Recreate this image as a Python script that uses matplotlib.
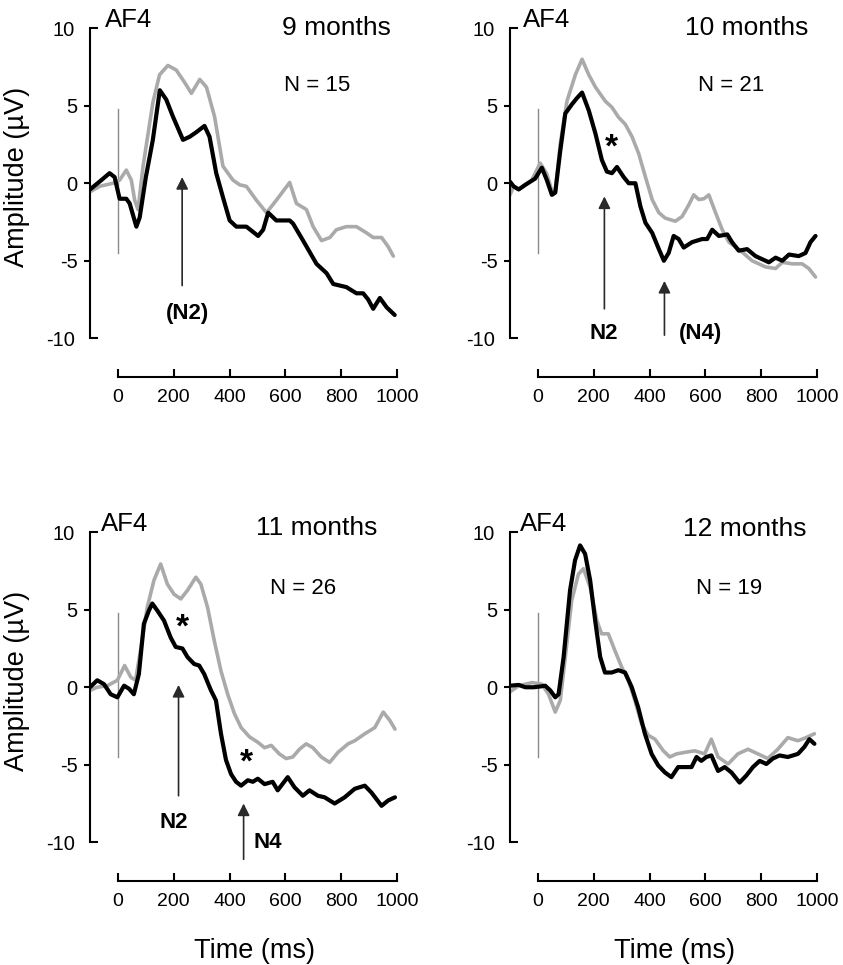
import matplotlib
matplotlib.use("Agg")
import matplotlib.pyplot as plt

plt.rcParams["font.family"] = ["Liberation Sans", "DejaVu Sans"]

# ── data (time in ms, amplitude in µV) ──────────────────────────────────────
t9_black = [-100, -66, -30, -12, 6, 30, 42, 66, 78, 100, 125, 150, 173, 197, 233, 257, 281, 310,
            328, 352, 376, 400, 424, 460, 502, 520, 538, 567, 615, 627, 663, 711, 747, 771, 818,
            854, 878, 896, 914, 938, 962, 991]
v9_black = [-0.4, 0.1, 0.65, 0.4, -1.0, -1.0, -1.3, -2.8, -2.2, 0.4, 2.8, 6.0, 5.4, 4.3, 2.8, 3.0,
            3.3, 3.7, 3.0, 0.65, -0.9, -2.4, -2.8, -2.8, -3.4, -3.0, -1.9, -2.4, -2.4, -2.6, -3.7,
            -5.2, -5.8, -6.5, -6.7, -7.1, -7.1, -7.5, -8.1, -7.4, -8.0, -8.5]
t9_gray = [-100, -66, -18, 6, 30, 48, 60, 72, 90, 125, 149, 179, 209, 239, 263, 293, 317, 346, 376,
           412, 436, 460, 496, 532, 567, 615, 639, 675, 699, 729, 759, 782, 818, 854, 890, 914, 944,
           968, 986]
v9_gray = [-0.55, -0.2, 0, 0.2, 0.85, 0.2, -1.1, -1.7, 1.1, 5.2, 7.0, 7.6, 7.3, 6.5, 5.8, 6.7, 6.2,
           4.3, 1.1, 0.2, -0.1, -0.2, -1.1, -1.9, -1.1, 0.05, -1.3, -1.7, -2.8, -3.7, -3.5, -3.0,
           -2.8, -2.8, -3.2, -3.5, -3.5, -4.1, -4.7]

t10_black = [-100, -87, -69, -45, -10, 14, 32, 50, 62, 80, 98, 122, 140, 158, 182, 206, 229, 247,
             265, 283, 307, 325, 349, 367, 385, 409, 433, 451, 468, 486, 504, 522, 552, 588, 606,
             624, 648, 678, 695, 719, 749, 779, 827, 851, 875, 899, 934, 958, 976, 994]
v10_black = [0.1, -0.2, -0.4, -0.1, 0.3, 1.0, 0.2, -0.75, -0.6, 2.1, 4.5, 5.1, 5.5, 5.85, 4.7, 3.2,
             1.5, 0.75, 0.65, 1.05, 0.4, 0, 0, -1.5, -2.55, -3.2, -4.25, -5.0, -4.5, -3.4, -3.6,
             -4.15, -3.8, -3.6, -3.6, -3.0, -3.4, -3.3, -3.8, -4.35, -4.25, -4.7, -5.1, -4.8, -5.0,
             -4.6, -4.7, -4.5, -3.8, -3.4]
t10_gray = [-100, -87, -69, -22, 8, 32, 50, 62, 80, 104, 134, 158, 182, 206, 241, 265, 289, 313,
            337, 361, 385, 409, 433, 456, 492, 516, 540, 558, 576, 594, 612, 636, 660, 684, 719,
            767, 815, 851, 875, 911, 946, 970, 994]
v10_gray = [-0.75, -0.2, -0.4, 0.2, 1.3, 0.6, -0.5, -0.6, 2.55, 5.3, 7.0, 8.0, 7.0, 6.2, 5.3, 4.9,
            4.25, 3.8, 3.0, 1.9, 0.4, -1.05, -1.9, -2.25, -2.45, -2.15, -1.4, -0.75, -1.05, -1.0,
            -0.75, -1.9, -3.0, -3.8, -4.25, -5.0, -5.4, -5.5, -5.1, -5.2, -5.2, -5.5, -6.05]

t11_black = [-100, -74, -50, -26, -2, 22, 40, 57, 75, 93, 111, 123, 141, 165, 189, 207, 231, 249,
             273, 291, 309, 333, 351, 369, 387, 405, 423, 441, 465, 483, 501, 525, 554, 572, 608,
             632, 662, 686, 716, 740, 776, 812, 848, 884, 908, 944, 968, 992]
v11_black = [0, 0.45, 0.2, -0.45, -0.65, 0.1, -0.1, -0.45, 0.85, 4.1, 4.95, 5.4, 4.95, 4.3, 3.2,
             2.6, 2.5, 1.95, 1.5, 1.4, 0.85, -0.2, -0.85, -3.0, -4.7, -5.6, -6.1, -6.35, -6.0, -6.1,
             -5.9, -6.25, -6.1, -6.65, -5.8, -6.45, -7.0, -6.65, -7.0, -7.1, -7.5, -7.1, -6.55,
             -6.35, -6.8, -7.65, -7.3, -7.1]
t11_gray = [-100, -74, -38, -2, 24, 46, 63, 81, 105, 129, 153, 177, 201, 225, 249, 279, 297, 321,
            345, 369, 393, 417, 441, 471, 501, 525, 549, 578, 602, 626, 650, 674, 698, 728, 758,
            788, 824, 848, 884, 920, 950, 974, 992]
v11_gray = [-0.2, 0, 0.1, 0.45, 1.4, 0.65, 0.45, 2.4, 5.15, 6.9, 7.95, 6.65, 6.0, 5.7, 6.25, 7.1,
            6.65, 5.15, 3.0, 1.05, -0.45, -1.7, -2.6, -3.2, -3.55, -3.9, -3.75, -4.3, -4.6, -4.5,
            -4.0, -3.65, -3.9, -4.5, -4.85, -4.2, -3.65, -3.45, -3.0, -2.6, -1.6, -2.15, -2.7]

t12_black = [-100, -69, -45, -15, 8, 26, 44, 62, 74, 92, 115, 133, 151, 169, 187, 205, 223, 240,
             264, 288, 312, 336, 359, 383, 407, 431, 455, 478, 502, 526, 550, 568, 585, 603, 621,
             645, 669, 693, 722, 746, 770, 794, 818, 841, 865, 895, 931, 954, 972, 990]
v12_black = [0.1, 0.15, 0, 0, 0.05, 0.1, -0.2, -0.65, -0.45, 1.95, 6.25, 8.2, 9.15, 8.6, 6.9, 4.3,
             1.95, 0.95, 0.95, 1.1, 0.95, 0, -1.3, -3.0, -4.3, -5.05, -5.5, -5.8, -5.15, -5.15,
             -5.15, -4.5, -4.75, -4.5, -4.4, -5.4, -5.15, -5.5, -6.15, -5.7, -5.15, -4.75, -4.95,
             -4.6, -4.4, -4.5, -4.3, -3.85, -3.35, -3.65]
t12_gray = [-100, -69, -21, 14, 38, 62, 80, 98, 121, 145, 163, 187, 211, 228, 252, 276, 300, 324,
            347, 371, 395, 419, 449, 472, 496, 526, 562, 597, 621, 645, 681, 716, 752, 788, 823,
            859, 895, 931, 960, 990]
v12_gray = [-0.3, 0.1, 0.3, 0.2, -0.45, -1.6, -0.85, 1.95, 5.6, 7.3, 7.65, 6.45, 4.3, 3.45, 3.45,
            2.35, 1.3, 0.45, -0.85, -2.35, -3.1, -3.35, -4.1, -4.5, -4.3, -4.2, -4.1, -4.3, -3.35,
            -4.5, -4.95, -4.3, -4.0, -4.3, -4.6, -4.0, -3.25, -3.45, -3.25, -3.0]

ages = ["9 months", "10 months", "11 months", "12 months"]
n_subjects = [15, 21, 26, 19]
y_ticks = [-10, -5, 0, 5, 10]
x_ticks = [0, 200, 400, 600, 800, 1000]

# ── layout: (label, arrow x, arrow tail y, arrow tip y, label x, label y) ───
arrows = [
    [("(N2)", 230, -6.6, 0.4, 250, -8.4)],
    [("N2", 238, -8.1, -0.85, 235, -9.7), ("(N4)", 453, -9.8, -6.3, 582, -9.7)],
    [("N2", 217, -7.0, 0.15, 201, -8.7), ("N4", 450, -11.1, -7.5, 537, -10.0)],
    [],
]
stars = [[], [(262, 2.3)], [(231, 3.8), (459, -4.9)], []]
title_pos = [(781, 10.0), (749, 10.0), (710, 10.25), (742, 10.2)]
n_pos = [(713, 6.3), (692, 6.3), (663, 6.4), (685, 6.35)]
af4_x = [-45, -55, -60, -65]

curves = [
    (t9_black, v9_black, t9_gray, v9_gray),
    (t10_black, v10_black, t10_gray, v10_gray),
    (t11_black, v11_black, t11_gray, v11_gray),
    (t12_black, v12_black, t12_gray, v12_gray),
]

W, H = 843, 965
fig = plt.figure(figsize=(W / 100, H / 100), dpi=100)
boxes = [(90, 377), (510, 377), (90, 881), (510, 881)]   # spine x, bottom y in px
aw, ah = 310, 356.5

GRAY = "#aaaaaa"
for i, (tb, vb, tg, vg) in enumerate(curves):
    left, bottom = boxes[i]
    ax = fig.add_axes([left / W, 1 - bottom / H, aw / W, ah / H])
    ax.set_xlim(-100, 1010)
    ax.set_ylim(-12.5, 10.5)

    ax.plot([0, 0], [-4.5, 4.8], color="#8a8a8a", lw=1.0)
    ax.plot(tg, vg, color=GRAY, lw=2.6, solid_joinstyle="round", solid_capstyle="round")
    ax.plot(tb, vb, color="black", lw=3.0, solid_joinstyle="round", solid_capstyle="round")

    for lab, ax_t, y0, y1, lx, ly in arrows[i]:
        ax.annotate("", xy=(ax_t, y1), xytext=(ax_t, y0),
                    arrowprops=dict(arrowstyle="-|>", color="#2a2a2a", lw=1.2,
                                    mutation_scale=18, shrinkA=0, shrinkB=0))
        ax.text(lx, ly, lab, ha="center", va="center", fontsize=16, fontweight="bold")
    for sx, sy in stars[i]:
        ax.text(sx, sy, "*", ha="center", va="center", fontsize=24, fontweight="bold")

    ax.text(af4_x[i], 10.55, "AF4", ha="left", va="center", fontsize=18.5)
    ax.text(*title_pos[i], ages[i], ha="center", va="center", fontsize=19)
    ax.text(*n_pos[i], f"N = {n_subjects[i]}", ha="center", va="center", fontsize=16)

    # axes styling
    for s in ("top", "right"):
        ax.spines[s].set_visible(False)
    ax.spines["left"].set_bounds(-10, 10)
    ax.spines["bottom"].set_bounds(0, 1000)
    for s in ("left", "bottom"):
        ax.spines[s].set_linewidth(1.5)

    ax.set_yticks([y for y in y_ticks if abs(y) < 10])
    ax.set_yticklabels([str(y) for y in y_ticks if abs(y) < 10])
    ax.set_yticks([-10, 10], minor=True)
    ax.set_yticklabels(["-10", "10"], minor=True)
    ax.tick_params(axis="y", which="major", direction="out", length=4, width=1.5,
                   pad=5, labelsize=14.5)
    ax.tick_params(axis="y", which="minor", direction="in", length=6, width=1.5,
                   pad=11, labelsize=14.5)

    ax.set_xticks(x_ticks)
    ax.set_xticklabels([str(x) for x in x_ticks])
    ax.tick_params(axis="x", direction="in", length=6, width=1.5, pad=9, labelsize=14)

    if i % 2 == 0:
        ax.set_ylabel("Amplitude (µV)", fontsize=19.5)
        ax.yaxis.set_label_coords(-0.195, 0.56)
    if i >= 2:
        ax.text(0.53, -0.195, "Time (ms)", transform=ax.transAxes,
                ha="center", va="center", fontsize=19.5)

fig.savefig("out.png", dpi=100)
